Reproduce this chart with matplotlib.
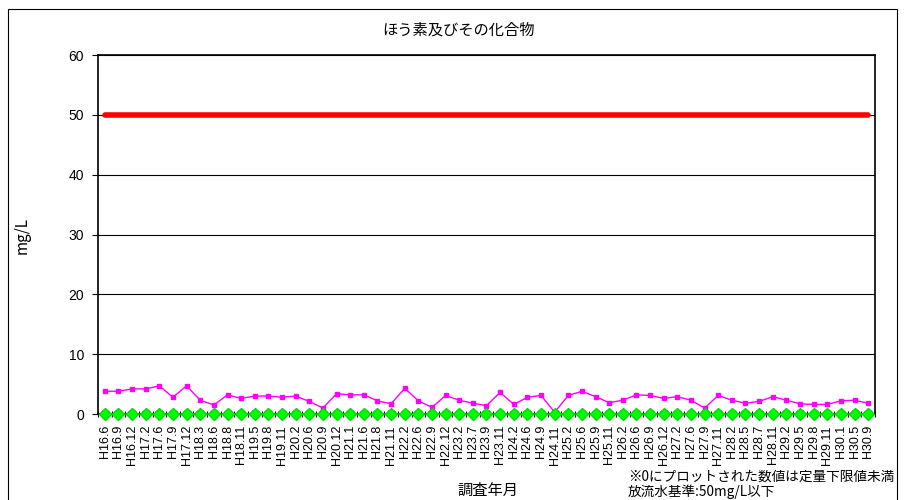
import numpy as np
import matplotlib.pyplot as plt
from matplotlib.patches import Rectangle

jp = ['Noto Sans CJK JP', 'DejaVu Sans']
num = ['Liberation Sans', 'Noto Sans CJK JP']

labels = ['H16.6', 'H16.9', 'H16.12', 'H17.2', 'H17.6', 'H17.9', 'H17.12', 'H18.3',
          'H18.6', 'H18.8', 'H18.11', 'H19.5', 'H19.8', 'H19.11', 'H20.2', 'H20.6',
          'H20.9', 'H20.12', 'H21.1', 'H21.6', 'H21.8', 'H21.11', 'H22.2', 'H22.6',
          'H22.9', 'H22.12', 'H23.2', 'H23.7', 'H23.9', 'H23.11', 'H24.2', 'H24.6',
          'H24.9', 'H24.11', 'H25.2', 'H25.6', 'H25.9', 'H25.11', 'H26.2', 'H26.6',
          'H26.9', 'H26.12', 'H27.2', 'H27.6', 'H27.9', 'H27.11', 'H28.2', 'H28.5',
          'H28.7', 'H28.11', 'H29.2', 'H29.5', 'H29.8', 'H29.11', 'H30.1', 'H30.5',
          'H30.9']

inflow = [3.8, 3.8, 4.2, 4.2, 4.7, 2.8, 4.7, 2.3, 1.5, 3.2, 2.6, 3.0, 3.0, 2.8, 3.0, 2.1,
          1.0, 3.4, 3.2, 3.2, 2.2, 1.7, 4.3, 2.2, 1.1, 3.1, 2.3, 1.8, 1.4, 3.6, 1.6, 2.8,
          3.1, 0.3, 3.1, 3.8, 2.9, 1.9, 2.3, 3.2, 3.1, 2.6, 2.9, 2.3, 1.0, 3.1, 2.3, 1.8,
          2.1, 2.9, 2.3, 1.7, 1.6, 1.6, 2.2, 2.3, 1.8]
outflow_a = [0.0] * len(labels)
outflow_b = [0.0] * len(labels)
standard = [50.0] * len(labels)

x = np.arange(len(labels))

fig = plt.figure(figsize=(9.06, 5.0), dpi=100)
fig.patches.append(Rectangle((8 / 906, -0.01), 889 / 906, 0.992, transform=fig.transFigure,
                             fill=False, edgecolor='black', linewidth=0.8))
ax = fig.add_axes([98 / 906, 86 / 500, 777 / 906, 359 / 500])

ax.plot(x, standard, color='#ff0000', linewidth=4, solid_capstyle='round', zorder=3)
ax.plot(x, inflow, color='#ff00ff', linewidth=1, marker='s', markersize=3.5, zorder=4)
ax.plot(x, outflow_b, color='#000080', linewidth=1, marker='o', markersize=6, zorder=4)
ax.plot(x, outflow_a, color='#009900', linewidth=1.5, marker='D', markersize=6.5,
        markerfacecolor='#00ff00', markeredgecolor='#00dd00', zorder=5, clip_on=False)

ax.set_xlim(-0.5, len(labels) - 0.5)
ax.set_ylim(0, 60)
ax.set_yticks(range(0, 61, 10))
ax.set_yticklabels([str(v) for v in range(0, 61, 10)], family=num, fontsize=10)
ax.yaxis.grid(True, color='black', linewidth=0.8)
ax.set_axisbelow(True)

ax.set_xticks(x)
ax.set_xticklabels(labels, rotation=90, family=num, fontsize=9)
ax.tick_params(axis='x', length=0, pad=8)
ax.set_xticks(np.arange(-0.5, len(labels), 1), minor=True)
ax.tick_params(axis='x', which='minor', length=4, direction='inout', width=0.8)
ax.tick_params(axis='y', length=4, width=0.8, pad=6)

for s in ax.spines.values():
    s.set_linewidth(1.2)

fig.text(458 / 906, 1 - 30 / 500, 'ほう素及びその化合物', ha='center', va='center',
         family=jp, fontsize=11)
fig.text(22 / 906, 1 - 235 / 500, 'mg/L', rotation=90, ha='center', va='center',
         family=jp, fontsize=11)
fig.text(488 / 906, 1 - 490 / 500, '調査年月', ha='center', va='center',
         family=jp, fontsize=11)
fig.text(628 / 906, 1 - 477 / 500, '※0にプロットされた数値は定量下限値未満', ha='left',
         va='center', family=jp, fontsize=9.8)
fig.text(628 / 906, 1 - 492 / 500, '放流水基準:50mg/L以下', ha='left', va='center',
         family=jp, fontsize=9.8)

fig.savefig('out.png', dpi=100)
